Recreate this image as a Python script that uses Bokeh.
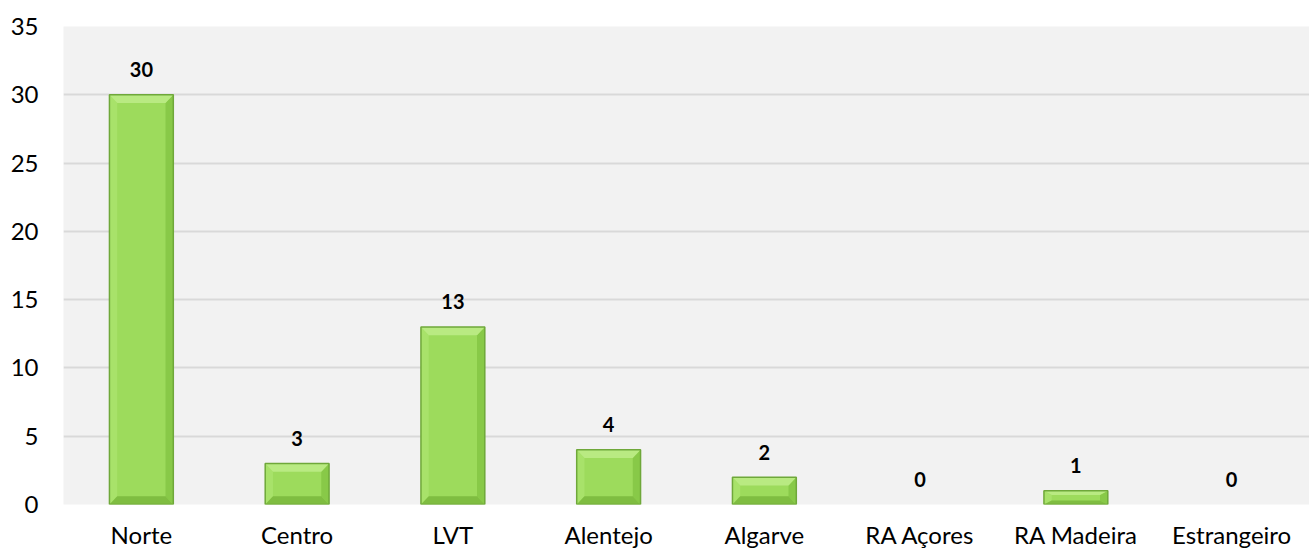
from bokeh.plotting import figure
from bokeh.models import Range1d, FixedTicker, ColumnDataSource
from bokeh.core.properties import value
from bokeh.embed import file_html
from bokeh.resources import INLINE

categories = ["Norte", "Centro", "LVT", "Alentejo", "Algarve", "RA Açores", "RA Madeira", "Estrangeiro"]
counts = [30, 3, 13, 4, 2, 0, 1, 0]
y_ticks = [0, 5, 10, 15, 20, 25, 30, 35]

FONT = "Lato"
xs = list(range(len(categories)))
bw = 0.41
bx = 0.05  # bevel width in x data units

p = figure(width=1309, height=551, output_backend="svg", toolbar_location=None,
           x_range=Range1d(-0.5, len(categories) - 0.5), y_range=Range1d(0, 35),
           min_border_left=63, min_border_right=0, min_border_top=26, min_border_bottom=46)
p.background_fill_color = "#f2f2f2"
p.border_fill_color = "white"
p.outline_line_color = None

p.xgrid.grid_line_color = None
p.ygrid.grid_line_color = "#d9d9d9"
p.ygrid.grid_line_width = 2
p.ygrid.ticker = FixedTicker(ticks=y_ticks)

p.yaxis.ticker = FixedTicker(ticks=y_ticks)
p.xaxis.ticker = FixedTicker(ticks=xs)
p.xaxis.major_label_overrides = {i: c for i, c in enumerate(categories)}
for ax in (p.xaxis[0], p.yaxis[0]):
    ax.axis_line_color = None
    ax.major_tick_line_color = None
    ax.minor_tick_line_color = None
    ax.major_label_text_font = FONT
    ax.major_label_text_font_size = "24px"
    ax.major_label_text_color = "#000000"
p.yaxis.major_label_standoff = 19
p.xaxis.major_label_standoff = 9

# bars with bevel faces (computed from data)
nz = [(x, v) for x, v in zip(xs, counts) if v > 0]
top_p, bot_p, left_p, right_p = ([], []), ([], []), ([], []), ([], [])
for x, v in nz:
    l, r = x - bw / 2, x + bw / 2
    bh = min(0.6, 0.3 * v)
    top_p[0].append([l, r, r - bx, l + bx]); top_p[1].append([v, v, v - bh, v - bh])
    bot_p[0].append([l, r, r - bx, l + bx]); bot_p[1].append([0, 0, bh, bh])
    left_p[0].append([l, l + bx, l + bx, l]); left_p[1].append([0, bh, v - bh, v])
    right_p[0].append([r, r - bx, r - bx, r]); right_p[1].append([0, bh, v - bh, v])

p.vbar(x=[a for a, _ in nz], top=[b for _, b in nz], bottom=0, width=bw,
       fill_color="#9ddb5c", line_color=None)
p.patches(xs=left_p[0], ys=left_p[1], fill_color="#a8e26a", line_color=None)
p.patches(xs=right_p[0], ys=right_p[1], fill_color="#88c948", line_color=None)
p.patches(xs=top_p[0], ys=top_p[1], fill_color="#b9ea82", line_color=None)
p.patches(xs=bot_p[0], ys=bot_p[1], fill_color="#7fbd41", line_color=None)
p.vbar(x=[a for a, _ in nz], top=[b for _, b in nz], bottom=0, width=bw,
       fill_color=None, line_color="#6fa83a", line_width=1.5)

src = ColumnDataSource(dict(x=xs, y=counts, t=[str(c) for c in counts]))
p.text(x="x", y="y", text="t", source=src, text_align="center", text_baseline="alphabetic",
       y_offset=-25, text_font=value(FONT), text_font_style="bold",
       text_font_size="20px", text_color="#000000")

open("out.html", "w").write(file_html(p, INLINE))
